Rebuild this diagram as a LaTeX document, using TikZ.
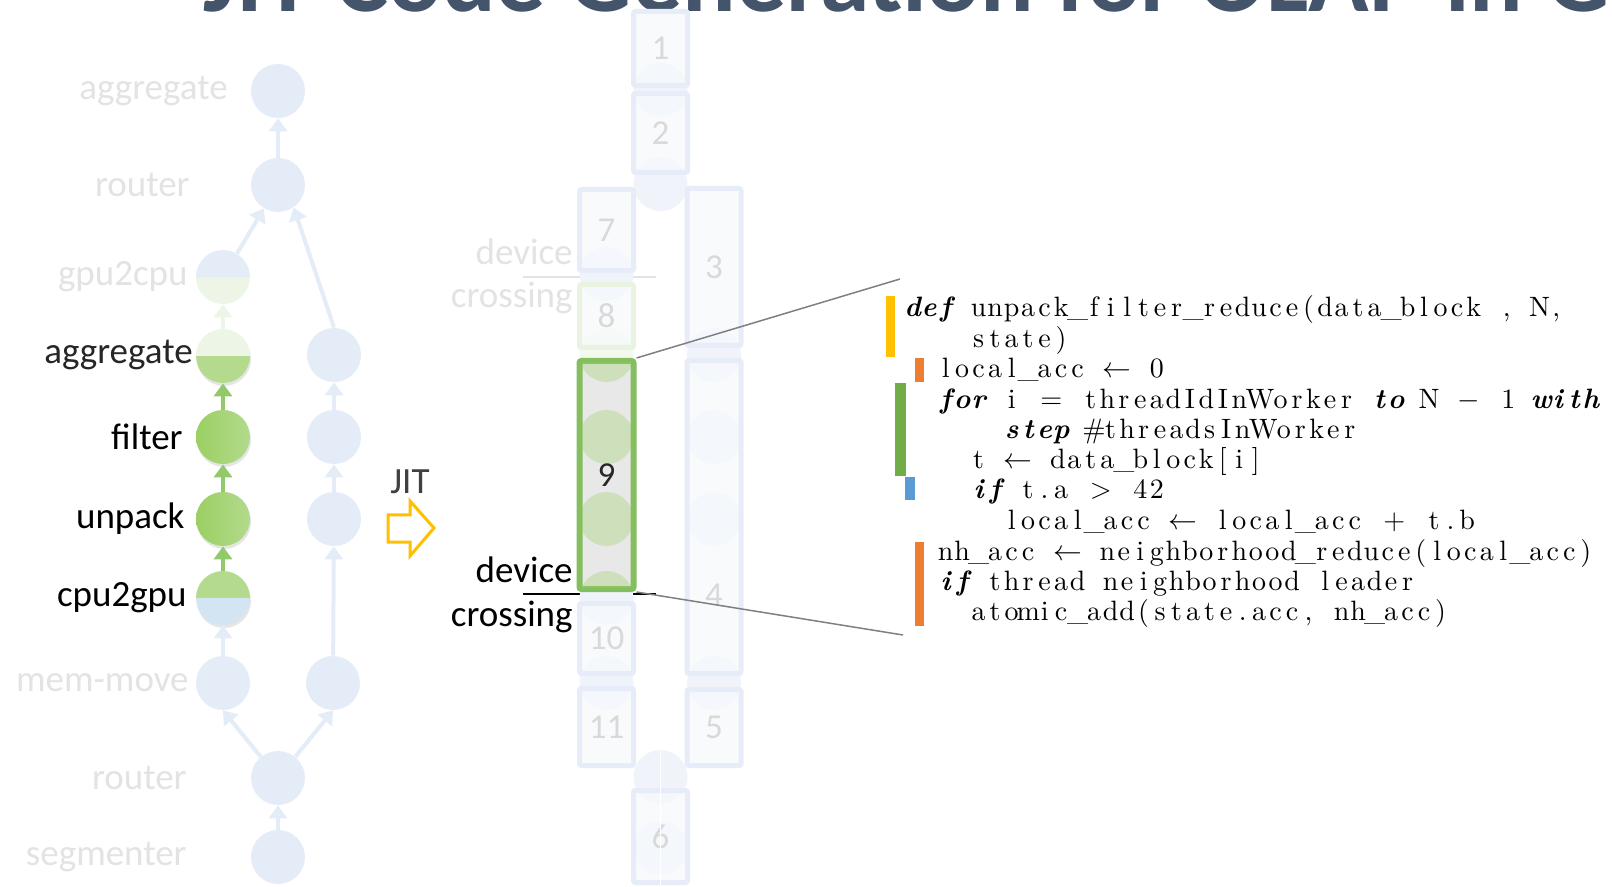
\documentclass[tikz,border=0pt]{standalone}
\usepackage{fontspec}
\usepackage{xcolor}
\usetikzlibrary{arrows.meta,shadows,positioning}
\newfontfamily\calibri{Carlito}
\newfontfamily\codefont{lmroman10-regular.otf}[
  BoldFont=lmroman10-bold.otf,
  ItalicFont=lmroman10-italic.otf,
  BoldItalicFont=lmroman10-bolditalic.otf]

\definecolor{titleblue}{HTML}{44546A}
\definecolor{fadeblue}{HTML}{E4EDF7}
\definecolor{fadegreen}{HTML}{EDF6E6}
\definecolor{midgreen}{HTML}{B3DA8D}
\definecolor{darkgreen}{HTML}{9BCF62}
\definecolor{arrowgreen}{HTML}{92C96A}
\definecolor{lightblue}{HTML}{D3E4F3}
\definecolor{fadetext}{HTML}{E3E3E3}
\definecolor{numgray}{HTML}{D9D9D9}
\definecolor{boxline}{HTML}{E7EDF8}
\definecolor{boxfill}{HTML}{F7F9FC}
\definecolor{ghostblue}{HTML}{F0F4FA}
\definecolor{boxgreen}{HTML}{84BE5F}
\definecolor{fadeboxgreen}{HTML}{E9F3E2}
\definecolor{jityellow}{HTML}{FFC000}
\definecolor{barorange}{HTML}{ED7D31}
\definecolor{bargreen}{HTML}{70AD47}
\definecolor{barblue}{HTML}{5B9BD5}

% fixed columns for the code
\newlength\cw
\setlength\cw{8.25pt}
\makeatletter
\newcommand\cl[1]{\@tfor\@ch:=#1\do{\makebox[\cw]{\@ch}}}
\makeatother
\newcommand\kw[1]{{\bfseries\itshape\cl{#1}}}
\newcommand\mx[1]{\makebox[1.8\cw]{$#1$}}
\newcommand\wide[1]{\makebox[1.5\cw]{#1}}

\tikzset{
  nd/.style={circle, minimum size=27pt, inner sep=0, fill=fadeblue},
  gshadow/.style={drop shadow={opacity=0.2, shadow xshift=0.5pt, shadow yshift=-1.5pt}},
  gnd/.style={nd, gshadow, left color=darkgreen, right color=midgreen},
  halves/.style 2 args={nd, fill=none, path picture={
      \fill[#1] (path picture bounding box.north west) rectangle (path picture bounding box.east);
      \fill[#2] (path picture bounding box.west) rectangle (path picture bounding box.south east);}},
  lbl/.style={anchor=east, inner sep=0, font=\calibri\fontsize{18.5}{22}\selectfont},
  ar/.style={-{Triangle[width=9pt,length=6.5pt]}, line width=2pt},
  gar/.style={ar, draw=arrowgreen},
  far/.style={ar, draw=fadeblue},
  kbox/.style={draw=boxline, fill=boxfill, fill opacity=0.7, text opacity=1, line width=2.5pt,
    rounded corners=1pt, minimum width=27pt, inner sep=0, text=numgray,
    font=\calibri\fontsize{17.5}{20}\selectfont},
  zoomline/.style={draw=black!50, line width=0.75pt},
  code/.style={anchor=base west, inner sep=0, font=\codefont\fontsize{14}{16}\selectfont}
}

\begin{document}
\begin{tikzpicture}[x=0.5pt,y=-0.5pt]

\useasboundingbox (0,0) rectangle (1612,887);
\clip (0,0) rectangle (1612,887); % limit img size
\fill[white] (0,0) rectangle (1612,887);

% title, cut at the top
\node[anchor=base west, inner sep=0, text=titleblue,
  font=\calibri\bfseries\fontsize{50}{60}\selectfont] (title) at (203,12) {JIT Code Generation for OLAP in G};

% operator graph
\node[nd] (aggtop) at (278,91) {};
\node[nd] (routtop) at (278,185) {};
\node[halves={fadeblue}{fadegreen}] (gpucpu) at (223,277) {};
\node[halves={fadegreen}{midgreen}, gshadow] (agg) at (223,356) {};
\node[gnd] (filter) at (223,437) {};
\node[gnd] (unpack) at (223,519) {};
\node[halves={midgreen}{lightblue}, gshadow] (cpugpu) at (223,598) {};
\node[nd] (memmove) at (223,683) {};
\node[nd] (routbot) at (278,778) {};
\node[nd] (segm) at (278,857) {};

\node[nd] (ragg) at (334,355) {};
\node[nd] (rfilter) at (334,437) {};
\node[nd] (runpack) at (334,519) {};
\node[nd] (rmem) at (333,683) {};

\draw[far] (routtop) -- (aggtop);
\draw[far] (gpucpu) -- (routtop);
\draw[far] (ragg.north) -- (routtop.-55);
\draw[ar, draw=fadegreen] (agg) -- (gpucpu);
\draw[gar] (filter) -- (agg);
\draw[gar] (unpack) -- (filter);
\draw[gar] (cpugpu) -- (unpack);
\draw[far] (memmove) -- (cpugpu);
\draw[far] (rfilter) -- (ragg);
\draw[far] (runpack) -- (rfilter);
\draw[far] (rmem) -- (runpack);
\draw[far] (routbot) -- (memmove.south);
\draw[far] (routbot) -- (rmem.south);
\draw[far] (segm) -- (routbot);

% graph labels
\node[lbl, text=fadetext] (laggtop) at (228,91) {aggregate};
\node[lbl, text=fadetext] (lrouttop) at (190,185) {router};
\node[lbl, text=fadetext] (lgpucpu) at (188,277) {gpu2cpu};
\node[lbl, text=black!85] (lagg) at (193,355) {aggregate};
\node[lbl] (lfilter) at (183,437) {filter};
\node[lbl] (lunpack) at (185,519) {unpack};
\node[lbl] (lcpugpu) at (187,598) {cpu2gpu};
\node[lbl, text=fadetext] (lmem) at (189,683) {mem-move};
\node[lbl, text=fadetext] (lroutbot) at (187,778) {router};
\node[lbl, text=fadetext] (lsegm) at (187,857) {segmenter};

% JIT arrow
\node[lbl, anchor=center, text=black!75] (jit) at (410,482) {JIT};
\draw[jityellow, line width=1.5pt, line join=miter, fill=white]
  (388,515) -- (410,515) -- (410,501) -- (434,528) -- (410,556) -- (410,542) -- (388,542) -- cycle;

% device crossing marks
\node[lbl, text=fadetext] (dev1) at (573,252) {device};
\draw[fadetext, line width=0.75pt] (523,277) -- (656,277);
\node[lbl, text=fadetext] (cross1) at (573,298) {crossing};
\node[lbl] (dev2) at (573,570) {device};
\draw[black, line width=0.75pt] (523,594) -- (656,594);
\node[lbl] (cross2) at (573,617) {crossing};

% ghost nodes behind the kernels
\foreach \x/\y in {660.5/90, 660.5/184, 606.5/274, 606.5/598, 606.5/683, 714/355, 714/437,
                   714/519, 714/683, 660.5/777, 660.5/848}
  \fill[ghostblue] (\x,\y) circle (27);
\fill[fadegreen!70] (606.5,355) circle (27);

% kernels
\node[kbox, minimum height=37pt] (k1) at (660.5,48.5) {1};
\node[kbox, minimum height=39.5pt] (k2) at (660.5,133) {2};
\node[kbox, minimum height=40.5pt] (k7) at (606.5,230) {7};
\node[kbox, minimum height=78.5pt] (k3) at (714,267) {3};
\node[kbox, draw=fadeboxgreen, minimum height=31.5pt] (k8) at (606.5,316) {8};
\node[kbox, minimum height=156.5pt] (k4) at (714,517) {};
\node[text=numgray, font=\calibri\fontsize{17.5}{20}\selectfont] (n4) at (714,595) {4};
\node[kbox, minimum height=35pt] (k10) at (606.5,638.5) {10};
\node[kbox, minimum height=38.5pt] (k11) at (606.5,727) {11};
\node[kbox, minimum height=38pt] (k5) at (714,727.5) {5};
\node[kbox, minimum height=46pt] (k6) at (660.5,836.5) {6};
\draw[white, line width=0.6pt] (660.5,750) -- (660.5,887);

\node[kbox, draw=boxgreen, fill=black!9, fill opacity=1, line width=3pt, minimum height=114pt] (k9) at (606.5,475) {};
\begin{scope}
  \clip (582,363) rectangle (631,587);
  \foreach \y in {355,437,519,598}
    \fill[darkgreen, opacity=0.33] (606.5,\y) circle (27);
\end{scope}
\node[text=black!85, font=\calibri\fontsize{17.5}{20}\selectfont] (n9) at (606.5,475) {9};

% zoom onto the code
\coordinate (ztop) at (900,279);
\coordinate (zbot) at (903,635);
\draw[zoomline] (k9.north east) -- (ztop);
\draw[zoomline] (k9.south east) -- (zbot);

% colour bars
\fill[jityellow] (886,296) rectangle (895,357);
\fill[barorange] (915,358) rectangle (924,382);
\fill[bargreen] (895,383) rectangle (906,476);
\fill[barblue] (905,477) rectangle (915,500);
\fill[barorange] (915,542) rectangle (924,626);

% code
\node[code] (c1) at (904,317) {\kw{def}\cl{~unpack\_filter\_reduce(data\_block~,~N,}};
\node[code] (c2) at (904,347.5) {\cl{~~~~state)}};
\node[code] (c3) at (904,377.5) {\cl{~~local\_acc~}\mx{\leftarrow}\cl{~0}};
\node[code] (c4) at (904,408.5) {\cl{~~}\kw{for}\cl{~i~}\mx{=}\cl{~threadIdIn}\wide{W}\cl{orker~}\kw{to}\cl{~N~}\mx{-}\cl{~1~}\kw{with}};
\node[code] (c5) at (904,438.5) {\cl{~~~~~~}\kw{step}\cl{~\#threadsIn}\wide{W}\cl{orker}};
\node[code] (c6) at (904,469) {\cl{~~~~t~}\mx{\leftarrow}\cl{~data\_block[i]}};
\node[code] (c7) at (904,498.5) {\cl{~~~~}\kw{if}\cl{~t.a~}\mx{>}\cl{~42}};
\node[code] (c8) at (904,529.5) {\cl{~~~~~~local\_acc~}\mx{\leftarrow}\cl{~local\_acc~}\mx{+}\cl{~t.b}};
\node[code] (c9) at (904,560.5) {\cl{~~nh\_acc~}\mx{\leftarrow}\cl{~neighborhood\_reduce(local\_acc)}};
\node[code] (c10) at (904,590.5) {\cl{~~}\kw{if}\cl{~thread~neighborhood~leader}};
\node[code] (c11) at (904,620.5) {\cl{~~~~atomic\_add(state.acc,~nh\_acc)}};

\end{tikzpicture}
\end{document}
